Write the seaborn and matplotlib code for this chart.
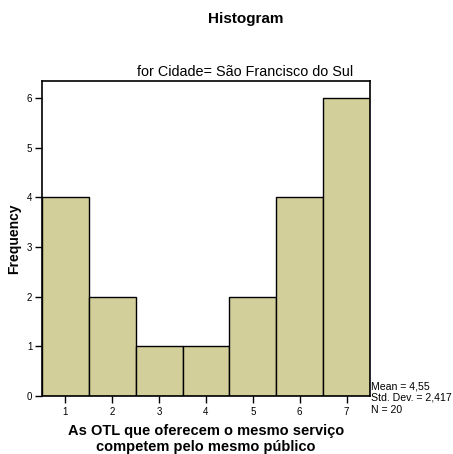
import numpy as np
import pandas as pd
import matplotlib
matplotlib.use('Agg')
import matplotlib.pyplot as plt
import seaborn as sns

# answers on the 1-7 scale and how many respondents picked each
scores = [1, 2, 3, 4, 5, 6, 7]
counts = [4, 2, 1, 1, 2, 4, 6]
y_ticks = [0, 1, 2, 3, 4, 5, 6]
stats_lines = ['Mean = 4,55', 'Std. Dev. = 2,417', 'N = 20']

sns.set_style('white')
plt.rcParams['font.family'] = ['Liberation Sans', 'DejaVu Sans']
plt.rcParams['text.color'] = 'black'
plt.rcParams['axes.labelcolor'] = 'black'
plt.rcParams['xtick.color'] = 'black'
plt.rcParams['ytick.color'] = 'black'

df = pd.DataFrame({'score': scores, 'count': counts})

fig = plt.figure(figsize=(4.53, 4.54), dpi=100)
ax = fig.add_axes([0.0927, 0.1278, 0.724, 0.6938])

sns.histplot(data=df, x='score', weights='count', discrete=True, ax=ax,
             color='#d3cf9b', edgecolor='black', linewidth=1.0, alpha=1)

ax.set_xlim(0.5, 7.5)
ax.set_ylim(0, 6.34)
ax.set_xticks(scores)
ax.set_yticks(y_ticks)
ax.tick_params(axis='both', direction='out', length=5, width=1, labelsize=7,
               color='black', labelcolor='black', pad=2, bottom=True, left=True)
ax.tick_params(axis='x', pad=3)
for s in ax.spines.values():
    s.set_color('black')
    s.set_linewidth(1.2)

ax.set_xlabel('As OTL que oferecem o mesmo serviço\ncompetem pelo mesmo público',
              fontsize=10.5, fontweight='bold', labelpad=5, linespacing=1.15)
ax.set_ylabel('Frequency', fontsize=10, fontweight='bold', labelpad=4)

fig.text(0.543, 0.958, 'Histogram', ha='center', va='center',
         fontsize=11, fontweight='bold')
fig.text(0.54, 0.842, 'for Cidade= São Francisco do Sul', ha='center', va='center',
         fontsize=10.4)
fig.text(0.818, 0.16, '\n'.join(stats_lines), ha='left', va='top',
         fontsize=7.6, linespacing=1.2)

fig.savefig('out.png', dpi=100)
